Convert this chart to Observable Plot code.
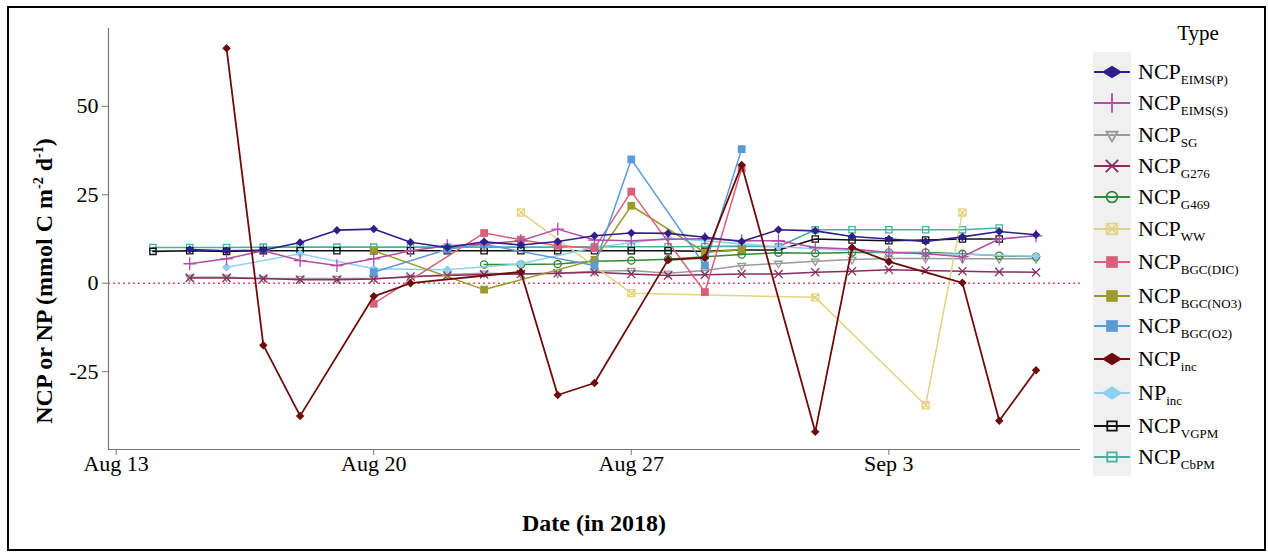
<!DOCTYPE html>
<html><head><meta charset="utf-8">
<script src="https://cdn.jsdelivr.net/npm/d3@7"></script>
<script src="https://cdn.jsdelivr.net/npm/@observablehq/plot@0.6"></script>
<style>
body{margin:0;background:#fff;}
#wrap{position:relative;width:1268px;height:553px;overflow:hidden;font-family:"Liberation Serif","Times New Roman",serif;color:#000;background:#fff;}
#wrap svg.plot{position:absolute;left:0;top:0;}
.frame{position:absolute;left:7px;top:6px;width:1255px;height:541px;border:2px solid #000;pointer-events:none;}
.ytitle{position:absolute;left:44px;top:281px;transform:translate(-50%,-50%) rotate(-90deg);white-space:nowrap;font-weight:bold;font-size:24px;}
.ytitle sup{font-size:14px;vertical-align:0;position:relative;top:-9px;}
.xtitle{position:absolute;left:594px;top:523px;transform:translate(-50%,-50%);white-space:nowrap;font-weight:bold;font-size:24px;}
.legbg{position:absolute;left:1093px;top:52px;width:38px;height:424px;background:#f0f0f0;}
.legtitle{position:absolute;left:1198px;top:33px;transform:translate(-50%,-50%);font-size:21px;}
.legitem{position:absolute;left:1092px;height:30px;display:flex;align-items:center;white-space:nowrap;}
.legitem svg{width:40px;height:30px;flex:none;}
.legitem .lab{margin-left:6px;font-size:22px;}
.legitem sub{font-size:13px;vertical-align:0;position:relative;top:5px;}
</style></head><body><div id="wrap"></div>
<script>
// ---- data ----
const dates = ["2018-08-14","2018-08-15","2018-08-16","2018-08-17","2018-08-18","2018-08-19","2018-08-20",
  "2018-08-21","2018-08-22","2018-08-23","2018-08-24","2018-08-25","2018-08-26","2018-08-27",
  "2018-08-28","2018-08-29","2018-08-30","2018-08-31","2018-09-01","2018-09-02","2018-09-03",
  "2018-09-04","2018-09-05","2018-09-06","2018-09-07"];
const typeNames = ["EIMS(P)","EIMS(S)","SG","G276","G469","WW","BGC(DIC)","BGC(NO3)","BGC(O2)","inc","inc","VGPM","CbPM"];
const typePrefix = ["NCP","NCP","NCP","NCP","NCP","NCP","NCP","NCP","NCP","NCP","NP","NCP","NCP"];
const ncpEimsP = [null,9.5,9.2,9.3,11.5,15.0,15.3,11.6,10.1,11.7,10.8,11.8,13.4,14.2,14.1,13.0,11.8,15.1,14.8,13.2,12.5,11.8,13.1,14.6,13.7];
const ncpEimsS = [null,5.5,6.9,9.2,6.4,5.0,6.9,9.2,10.6,11.1,12.0,15.3,12.2,12.0,12.4,12.6,12.0,12.0,10.1,9.7,8.7,8.3,7.5,12.5,13.4];
const ncpSG    = [null,1.7,1.7,1.3,1.3,1.3,1.3,1.7,2.5,2.8,2.6,2.8,3.4,3.6,2.8,3.6,5.0,5.6,6.2,6.7,7.0,7.0,6.9,6.9,6.9];
const ncpG276  = [null,1.5,1.5,1.3,1.0,1.0,1.2,1.9,2.2,2.5,2.6,2.8,3.1,2.6,2.2,2.4,2.6,2.6,3.1,3.4,3.8,3.6,3.4,3.2,3.1];
const ncpG469  = [null,null,null,null,null,null,null,null,null,5.3,5.3,5.4,6.2,6.4,6.8,7.5,8.1,8.6,8.5,8.7,8.7,8.7,8.3,7.8,7.5];
const ncpWW    = [null,null,null,null,null,null,null,null,null,null,20.0,null,null,-2.8,null,null,null,null,-4.0,null,null,-34.5,20.0,null,null];
const ncpDIC   = [null,null,null,null,null,null,-5.8,null,null,14.2,12.3,10.6,9.9,25.9,null,-2.5,32.5,null,null,null,null,null,null,null,null];
const ncpNO3   = [null,null,null,null,null,null,9.2,null,null,-1.8,null,null,6.6,21.9,null,8.7,9.5,null,null,null,null,null,null,null,null];
const ncpO2    = [null,null,null,null,null,null,3.1,null,9.6,11.0,null,null,5.0,35.0,null,5.0,37.9,null,null,null,null,null,null,null,null];
const ncpInc   = [null,null,66.4,-17.5,-37.5,null,-3.7,0.0,null,null,3.2,-31.6,-28.2,null,6.6,7.2,33.4,null,-42.0,10.1,6.1,null,0.1,-38.9,-24.6];
const npInc    = [null,null,4.5,null,8.3,null,4.1,null,3.8,null,5.5,null,10.1,null,12.8,null,null,10.3,null,null,8.7,null,null,null,7.6];
const ncpVGPM  = [9.0,9.2,9.0,9.2,9.2,9.2,9.2,9.2,9.2,9.2,9.2,9.2,9.2,9.2,9.2,9.0,9.4,9.4,12.5,12.2,12.0,12.2,12.5,12.5,null];
const ncpCbPM  = [10.1,10.1,10.1,10.2,10.2,10.2,10.2,10.2,10.2,10.2,10.2,10.2,10.3,10.3,10.3,10.4,10.5,10.3,15.1,15.1,15.1,15.1,15.1,15.6,null];
const yTicks = [-25,0,25,50];
const xTicks = ["2018-08-13","2018-08-20","2018-08-27","2018-09-03"];

// ---- styles ----
const squareX = {draw(ctx, size){const s=Math.sqrt(size)/2;ctx.moveTo(-s,-s);ctx.lineTo(s,-s);ctx.lineTo(s,s);ctx.lineTo(-s,s);ctx.closePath();ctx.moveTo(-s,-s);ctx.lineTo(s,s);ctx.moveTo(s,-s);ctx.lineTo(-s,s);}};
const rhombus = {draw(ctx, size){const s=Math.sqrt(size)*0.6;ctx.moveTo(0,-s);ctx.lineTo(s,0);ctx.lineTo(0,s);ctx.lineTo(-s,0);ctx.closePath();}};
const wideRhombus = {draw(ctx, size){const s=Math.sqrt(size)*0.6;ctx.moveTo(0,-s*0.62);ctx.lineTo(s,0);ctx.lineTo(0,s*0.62);ctx.lineTo(-s,0);ctx.closePath();}};
const seriesValues = [ncpEimsP,ncpEimsS,ncpSG,ncpG276,ncpG469,ncpWW,ncpDIC,ncpNO3,ncpO2,ncpInc,npInc,ncpVGPM,ncpCbPM];
const styles = [
  {color:"#2e1f8c", sym:rhombus, filled:true, r:4.0, lw:1.6},
  {color:"#b44ba6", sym:d3.symbolPlus, filled:false, r:4.2, lw:1.5},
  {color:"#9a9a9a", sym:d3.symbolTriangle2, filled:false, r:3.6, lw:1.5, rot:180},
  {color:"#8a2c5f", sym:d3.symbolTimes, filled:false, r:3.8, lw:1.5},
  {color:"#2f8a3a", sym:d3.symbolCircle, filled:false, r:3.6, lw:1.5},
  {color:"#e3d382", sym:squareX, filled:false, r:4.0, lw:1.5},
  {color:"#d8607a", sym:d3.symbolSquare, filled:true, r:4.4, lw:1.5},
  {color:"#9c9a2c", sym:d3.symbolSquare, filled:true, r:4.4, lw:1.5},
  {color:"#5b9bd5", sym:d3.symbolSquare, filled:true, r:4.4, lw:1.5},
  {color:"#6e0c0c", sym:rhombus, filled:true, r:4.0, lw:1.8},
  {color:"#8fd0f0", sym:rhombus, filled:true, r:4.2, lw:1.5},
  {color:"#111111", sym:d3.symbolSquare2, filled:false, r:4.0, lw:1.6},
  {color:"#47b0a0", sym:d3.symbolSquare2, filled:false, r:4.0, lw:1.6}
];
const drawOrder = [12,11,2,3,4,5,10,7,6,8,1,0,9];

const x0 = new Date("2018-08-12T19:00Z"), x1 = new Date("2018-09-08T05:00Z");
const marks = [
  Plot.ruleY([0], {stroke:"#e0506a", strokeDasharray:"2,3", strokeWidth:1.4}),
  Plot.ruleX([x0], {stroke:"#777", strokeWidth:1.2}),
  Plot.ruleY([-47], {stroke:"#777", strokeWidth:1.2}),
  Plot.axisY({ticks:yTicks, tickFormat:d=>String(d), tickSize:6, tickPadding:4, fontSize:22, label:null, stroke:"#777", fill:"#000"}),
  Plot.axisX({ticks:xTicks.map(d=>new Date(d)), tickFormat:d3.utcFormat("%b %-d"), tickSize:6, tickPadding:0, fontSize:22, label:null, stroke:"#777", fill:"#000"})
];
for (const k of drawOrder) {
  const st = styles[k];
  const data = dates.map((d,i)=>({date:new Date(d), value:seriesValues[k][i]})).filter(d=>d.value!=null);
  marks.push(Plot.line(data, {x:"date", y:"value", stroke:st.color, strokeWidth:st.lw}));
  marks.push(Plot.dot(data, {x:"date", y:"value", symbol:st.sym, r:st.r,
    fill: st.filled ? st.color : "none", stroke: st.filled ? "none" : st.color, strokeWidth:1.3, rotate: st.rot || 0}));
}

const chart = Plot.plot({
  width:1268, height:553,
  marginLeft:108, marginRight:188, marginTop:28, marginBottom:104,
  x:{type:"utc", domain:[x0,x1]},
  y:{domain:[-47,72]},
  style:{fontFamily:"Liberation Serif, Times New Roman, serif", fontSize:"22px", color:"#000", background:"transparent"},
  marks
});
chart.classList.add("plot");
const wrap = document.getElementById("wrap");
wrap.appendChild(chart);

const yt = document.createElement("div"); yt.className="ytitle";
yt.innerHTML = "NCP or NP (mmol C m<sup>-2</sup> d<sup>-1</sup>)"; wrap.appendChild(yt);
const xt = document.createElement("div"); xt.className="xtitle"; xt.textContent="Date (in 2018)"; wrap.appendChild(xt);

// ---- legend ----
const bg = document.createElement("div"); bg.className="legbg"; wrap.appendChild(bg);
const lt = document.createElement("div"); lt.className="legtitle"; lt.textContent="Type"; wrap.appendChild(lt);
const legY = [72,103,135,166,197,229,262,296,326,359,393,426,457];
typeNames.forEach((name,k)=>{
  const st = styles[k];
  const legSym = st.sym === rhombus ? wideRhombus : st.sym;
  const scale = st.sym === rhombus ? 2.4 : 1.5;
  const size = Math.PI*Math.pow(st.r*scale,2);
  const path = d3.symbol(legSym, size)();
  it = document.createElement("div"); it.className="legitem"; it.style.top=(legY[k]-15)+"px";
  it.innerHTML = `<svg viewBox="0 0 40 30"><line x1="2" x2="38" y1="15" y2="15" stroke="${st.color}" stroke-width="2.2"/>`+
    `<path transform="translate(20,15) rotate(${st.rot||0})" d="${path}" fill="${st.filled?st.color:'none'}" stroke="${st.filled?'none':st.color}" stroke-width="1.8"/></svg>`+
    `<span class="lab">${typePrefix[k]}<sub>${name}</sub></span>`;
  wrap.appendChild(it);
});
var it;
const fr = document.createElement("div"); fr.className="frame"; wrap.appendChild(fr);
</script>
</body></html>
